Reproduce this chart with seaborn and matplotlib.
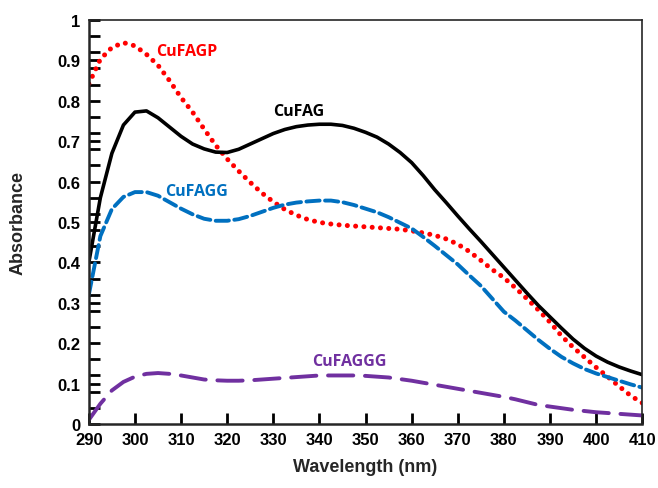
import numpy as np
import pandas as pd
import matplotlib
matplotlib.use("Agg")
import matplotlib.pyplot as plt
from matplotlib.ticker import MultipleLocator
import seaborn as sns

sns.set_style("ticks")
plt.rcParams['font.family'] = ['Liberation Sans', 'DejaVu Sans']
plt.rcParams['font.weight'] = 'bold'

# wavelength grid (nm)
wavelength = [290, 292.5, 295, 297.5, 300, 302.5, 305, 307.5, 310, 312.5,
              315, 317.5, 320, 322.5, 325, 327.5, 330, 332.5, 335, 337.5,
              340, 342.5, 345, 347.5, 350, 352.5, 355, 357.5, 360, 362.5,
              365, 367.5, 370, 372.5, 375, 377.5, 380, 382.5, 385, 387.5,
              390, 392.5, 395, 397.5, 400, 402.5, 405, 407.5, 410]

cufag = [0.400, 0.560, 0.670, 0.740, 0.772, 0.775, 0.758, 0.735, 0.712, 0.693,
         0.681, 0.673, 0.672, 0.680, 0.693, 0.706, 0.719, 0.729, 0.736, 0.740,
         0.742, 0.742, 0.739, 0.732, 0.722, 0.710, 0.693, 0.672, 0.647, 0.615,
         0.580, 0.548, 0.515, 0.483, 0.452, 0.420, 0.388, 0.356, 0.324, 0.293,
         0.265, 0.237, 0.210, 0.187, 0.168, 0.153, 0.141, 0.131, 0.122]

cufagp = [0.842, 0.903, 0.932, 0.944, 0.936, 0.915, 0.888, 0.850, 0.808, 0.772,
          0.730, 0.690, 0.656, 0.626, 0.598, 0.572, 0.550, 0.531, 0.517, 0.506,
          0.499, 0.495, 0.492, 0.490, 0.488, 0.486, 0.484, 0.482, 0.478, 0.473,
          0.467, 0.458, 0.445, 0.427, 0.405, 0.382, 0.362, 0.337, 0.310, 0.282,
          0.252, 0.218, 0.190, 0.165, 0.140, 0.117, 0.093, 0.070, 0.052]

cufagg = [0.320, 0.465, 0.532, 0.562, 0.574, 0.574, 0.565, 0.549, 0.533, 0.519,
          0.508, 0.503, 0.503, 0.507, 0.515, 0.525, 0.535, 0.543, 0.548, 0.551,
          0.553, 0.553, 0.549, 0.542, 0.533, 0.524, 0.512, 0.498, 0.484, 0.463,
          0.441, 0.418, 0.395, 0.368, 0.342, 0.310, 0.278, 0.256, 0.232, 0.208,
          0.186, 0.166, 0.150, 0.136, 0.125, 0.116, 0.107, 0.098, 0.090]

cufaggg = [0.010, 0.050, 0.083, 0.104, 0.117, 0.124, 0.126, 0.124, 0.120, 0.115,
           0.110, 0.108, 0.107, 0.107, 0.108, 0.110, 0.112, 0.114, 0.116, 0.118,
           0.120, 0.120, 0.120, 0.120, 0.119, 0.117, 0.115, 0.111, 0.107, 0.102,
           0.097, 0.092, 0.087, 0.082, 0.077, 0.072, 0.067, 0.061, 0.054, 0.047,
           0.043, 0.039, 0.035, 0.032, 0.029, 0.027, 0.025, 0.023, 0.021]

series_names = ["CuFAGP", "CuFAG", "CuFAGG", "CuFAGGG"]
series_values = [cufagp, cufag, cufagg, cufaggg]
colors = ["#FF0000", "#000000", "#0070C0", "#7030A0"]
styles = [(0, (0.01, 1.65)), "-", (0, (3.4, 1.4)), (0, (6.5, 3))]
widths = [3.6, 2.6, 2.8, 2.8]
label_pos = [(311.2, 0.924), (335.6, 0.775), (313.4, 0.577), (346.5, 0.157)]

fig = plt.figure(figsize=(6.58, 4.89), dpi=100)
ax = fig.add_axes([0.135, 0.131, 0.841, 0.826])

for name, vals, c, ls, lw in zip(series_names, series_values, colors, styles, widths):
    sns.lineplot(x=wavelength, y=vals, ax=ax, color=c, linestyle=ls, linewidth=lw,
                 dash_capstyle='round', solid_capstyle='round')

for name, (lx, ly), c in zip(series_names, label_pos, colors):
    ax.text(lx, ly, name, color=c, fontsize=11.5, fontweight='bold',
            ha='center', va='center', family=['Open Sans', 'DejaVu Sans'])

ax.set_xlim(290, 410)
ax.set_ylim(0, 1)
ax.xaxis.set_major_locator(MultipleLocator(10))
ax.yaxis.set_major_locator(MultipleLocator(0.1))
ax.yaxis.set_minor_locator(MultipleLocator(0.04))
ax.yaxis.set_major_formatter(lambda v, p: f"{v:g}")

ax.set_xlabel("Wavelength (nm)", fontsize=13, fontweight='bold', labelpad=8)
ax.set_ylabel("Absorbance", fontsize=13, fontweight='bold', labelpad=22)

sns.despine(ax=ax, top=False, right=False)
ax.spines['left'].set_linewidth(1.8)
ax.spines['bottom'].set_linewidth(1.8)
ax.spines['top'].set_linewidth(1.2)
ax.spines['right'].set_linewidth(1.2)

# inward ticks, set last so nothing resets them
ax.tick_params(axis='both', which='major', direction='in', length=8, width=2,
               color='black', labelcolor='black', labelsize=12, pad=6,
               left=True, bottom=True, top=False, right=False)
ax.tick_params(axis='y', which='minor', direction='in', length=8, width=2,
               color='black', left=True, right=False)

fig.savefig("out.png", dpi=100)
